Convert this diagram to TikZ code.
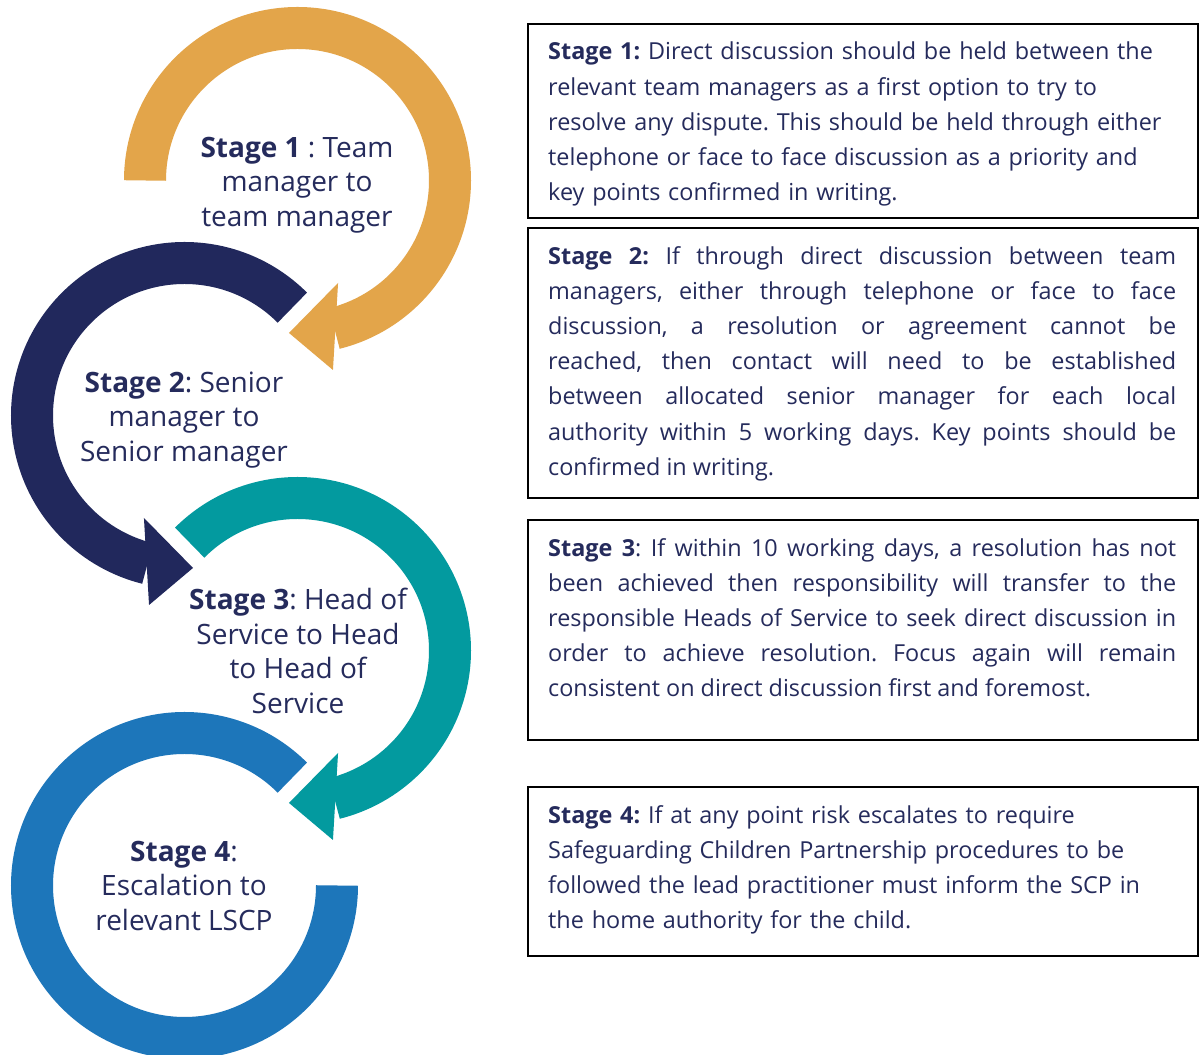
\documentclass[tikz,border=0pt]{standalone}
\usepackage{fontspec}
\setmainfont{Open Sans}
\frenchspacing
\usetikzlibrary{calc}
\definecolor{cOrange}{HTML}{E3A54A}
\definecolor{cNavy}{HTML}{21285C}
\definecolor{cTeal}{HTML}{039A9F}
\definecolor{cBlue}{HTML}{1D76BA}
\definecolor{cText}{HTML}{252B5C}
\begin{document}
\begin{tikzpicture}[x=1pt,y=1pt,
  ring/.style={line width=42pt},
  ringlabel/.style={align=center, text=cText, font=\fontsize{28}{34.5}\selectfont, inner sep=0},
  panel/.style={draw=black, line width=2pt, minimum width=670pt, anchor=north west, inner sep=0},
  paneltext/.style={text width=628pt, anchor=north west, inner sep=0, text=cText, font=\fontsize{23.4}{35.2}\selectfont}]
\useasboundingbox[fill=white] (0,0) rectangle (1203,1055);
\coordinate (C1) at (297.5,874.5);
\coordinate (C2) at (184.5,639.5);
\coordinate (C3) at (297.5,404.5);
\coordinate (C4) at (184.5,169.5);
% ring 4
\draw[ring, cBlue] ($(C4)+(45:152.5)$) arc[start angle=45, end angle=360, radius=152.5];
% ring 3
\draw[ring, cTeal] ($(C3)+(135:152.5)$) arc[start angle=135, end angle=-76, radius=152.5];
\fill[cTeal] ($(C3)+(-68.4:110.2)$) -- ($(C3)+(-79.4:192.8)$) -- ($(C3)+(-93.2:152.7)$) -- cycle;
% ring 2
\draw[ring, cNavy] ($(C2)+(45:152.5)$) arc[start angle=45, end angle=256, radius=152.5];
\fill[cNavy] ($(C2)+(248.4:110.2)$) -- ($(C2)+(259.4:192.8)$) -- ($(C2)+(273.2:152.7)$) -- cycle;
% ring 1
\draw[ring, cOrange] ($(C1)+(180:152.5)$) arc[start angle=180, end angle=-76, radius=152.5];
\fill[cOrange] ($(C1)+(-68.4:110.2)$) -- ($(C1)+(-79.4:192.8)$) -- ($(C1)+(-93.2:152.7)$) -- cycle;
% ring labels
\node[ringlabel] (l1) at (297,870) {\textbf{Stage 1} : Team\\manager to\\team manager};
\node[ringlabel] (l2) at (184,635) {\textbf{Stage 2}: Senior\\manager to\\Senior manager};
\node[ringlabel] (l3) at (298,404) {\textbf{Stage 3}: Head of\\Service to Head\\to Head of\\Service};
\node[ringlabel] (l4) at (184,169) {\textbf{Stage 4}:\\Escalation to\\relevant LSCP};
% panels
\node[panel, minimum height=194pt] (b1) at (527,1032) {};
\node[panel, minimum height=270pt] (b2) at (527,828) {};
\node[panel, minimum height=220pt] (b3) at (527,536) {};
\node[panel, minimum height=169pt] (b4) at (527,269) {};
\node[paneltext, align=left] (t1) at ($(b1.north west)+(21,-19)$) {\textbf{Stage 1:} Direct discussion should be held between the\\relevant team managers as a first option to try to\\resolve any dispute. This should be held through either\\telephone or face to face discussion as a priority and\\key points confirmed in writing.};
\node[paneltext, align=justify] (t2) at ($(b2.north west)+(21,-19)$) {\textbf{Stage 2:} If through direct discussion between team\linebreak managers, either through telephone or face to face\linebreak discussion, a resolution or agreement cannot be\linebreak reached, then contact will need to be established\linebreak between allocated senior manager for each local\linebreak authority within 5 working days. Key points should be\linebreak confirmed in writing.};
\node[paneltext, align=justify] (t3) at ($(b3.north west)+(21,-19)$) {\textbf{Stage 3}: If within 10 working days, a resolution has not\linebreak been achieved then responsibility will transfer to the\linebreak responsible Heads of Service to seek direct discussion in\linebreak order to achieve resolution. Focus again will remain\linebreak consistent on direct discussion first and foremost.};
\node[paneltext, align=left] (t4) at ($(b4.north west)+(21,-19)$) {\textbf{Stage 4:} If at any point risk escalates to require\\Safeguarding Children Partnership procedures to be\\followed the lead practitioner must inform the SCP in\\the home authority for the child.};
\end{tikzpicture}
\end{document}
